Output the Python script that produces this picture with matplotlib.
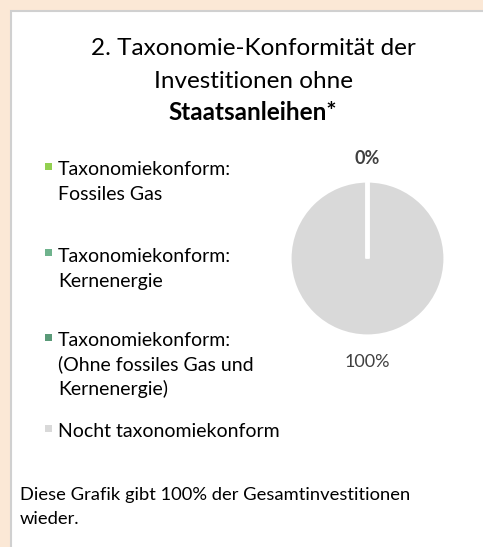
import numpy as np
import matplotlib.pyplot as plt
from matplotlib.patches import Rectangle

plt.rcParams['font.family'] = ['Lato', 'DejaVu Sans']

W, H = 483, 547

title_lines = ["2. Taxonomie-Konformität der", "Investitionen ohne", "Staatsanleihen*"]
labels = ["Taxonomiekonform:\nFossiles Gas",
          "Taxonomiekonform:\nKernenergie",
          "Taxonomiekonform:\n(Ohne fossiles Gas und\nKernenergie)",
          "Nocht taxonomiekonform"]
values = [0, 0, 0, 100]
colors = ['#92D050', '#6FB38D', '#5A9A78', '#D9D9D9']
footnote = ["Diese Grafik gibt 100% der Gesamtinvestitionen", "wieder."]


def fx(x):
    return x / W


def fy(y):
    return 1 - y / H


fig = plt.figure(figsize=(W / 100, H / 100), dpi=100)
fig.patch.set_facecolor('#FBE8D6')

# white panel with grey border (runs off the right and bottom edges)
fig.patches.append(Rectangle((fx(10.5), fy(600)), fx(600), (600 - 10.5) / H,
                             transform=fig.transFigure, facecolor='white',
                             edgecolor='#D0D0D0', linewidth=1.5, zorder=-5))

# title
for i, line in enumerate(title_lines):
    fig.text(fx(253), fy(55 + 32.5 * i), line, ha='center', va='baseline',
             fontsize=17.5, color='black',
             fontweight='bold' if i == 2 else 'normal')

# legend
first_base = [175, 262, 346, 437]
for lab, col, yb in zip(labels, colors, first_base):
    fig.patches.append(Rectangle((fx(45), fy(yb - 5.5)), fx(7), 7 / H,
                                 transform=fig.transFigure, facecolor=col,
                                 edgecolor='none'))
    for j, line in enumerate(lab.split("\n")):
        fig.text(fx(58), fy(yb + 24.5 * j), line, ha='left', va='baseline',
                 fontsize=14, color='black')

# footnote
for j, line in enumerate(footnote):
    fig.text(fx(20), fy(500 + 24.5 * j), line, ha='left', va='baseline',
             fontsize=13.2, color='black')

# pie
cx, cy, r = 367.5, 258.5, 78
half = 120
ax = fig.add_axes([fx(cx - half), fy(cy + half), 2 * half / W, 2 * half / H])
ax.set_zorder(5)
wedges, _ = ax.pie(values, colors=colors, startangle=90, counterclock=False,
                   wedgeprops=dict(edgecolor='white', linewidth=3))
# zero-sized slices show up as a white gap line, keep them above the full slice
for w, v in zip(wedges, values):
    if v == 0:
        w.set_zorder(3)
lim = half / r
ax.set_xlim(-lim, lim)
ax.set_ylim(-lim, lim)
ax.set_aspect('equal')
ax.axis('off')

# data labels: one for the zero group at the top, one for the full wedge
vals = np.array(values, dtype=float)
ends = 90 - 360 * np.cumsum(vals) / vals.sum()
starts = ends + 360 * vals / vals.sum()
mids = (starts + ends) / 2
zero_ang = np.deg2rad(mids[0])
full_ang = np.deg2rad(mids[-1])
ax.text(1.28 * np.cos(zero_ang), 1.28 * np.sin(zero_ang),
        f"{values[0]:.0f}%", ha='center', va='center', fontsize=13,
        fontweight='bold', color='#404040')
ax.text(1.33 * np.cos(full_ang), 1.33 * np.sin(full_ang),
        f"{values[-1]:.0f}%", ha='center', va='center', fontsize=13,
        color='#404040')

fig.savefig('out.png', dpi=100)
